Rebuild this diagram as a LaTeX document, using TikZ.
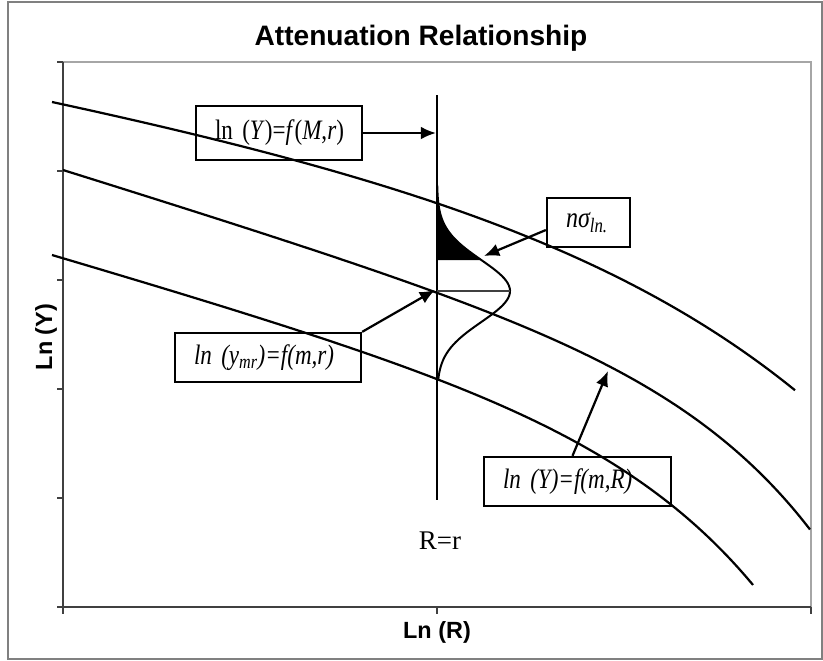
\documentclass[tikz,border=0pt]{standalone}
\usepackage{fontspec}
\setmainfont{Liberation Serif}
\setsansfont{Liberation Sans}
\newfontfamily\boxfont[FakeStretch=0.82]{Liberation Serif}
\usetikzlibrary{arrows.meta,calc}

\begin{document}
\begin{tikzpicture}[
  x=0.03cm, y=-0.03cm,
  relbox/.style={draw, line width=2pt, inner xsep=0.57cm, inner ysep=0pt, align=left,
    minimum height=1.47cm, font=\boxfont\fontsize{24}{26}\selectfont},
  attcurve/.style={line width=1.9pt, smooth, samples=90, variable=\u},
  callarrow/.style={draw, line width=1.9pt, -{Latex[length=13pt,width=11pt]}},
  axislabel/.style={font=\sffamily\bfseries\fontsize{20}{24}\selectfont}
]
\useasboundingbox (0,0) rectangle (823,660);

% frame and plot area
\draw[gray, line width=1pt] (8,2) rectangle (822,659);
\draw[gray!70, line width=1pt] (63,62) -- (811,62) -- (811,607);
\draw[black!75, line width=1.2pt] (63,62) -- (63,607) -- (811,607);
\foreach \ty in {62,171,280,389,498,607}
  \draw[black!75, line width=1pt] (57,\ty) -- (63,\ty);
\foreach \tx in {63,437,811}
  \draw[black!75, line width=1pt] (\tx,607) -- (\tx,614);

\node[font=\sffamily\bfseries\fontsize{24}{28}\selectfont, anchor=base] (title) at (421,45) {Attenuation Relationship};
\node[axislabel, anchor=base] (xlab) at (437,638) {Ln (R)};
\node[axislabel, anchor=base, rotate=90] (ylab) at (52,337) {Ln (Y)};

% attenuation curves
\draw[attcurve] plot[domain=0:743] ({52+\u},{102+0.18*\u+9.41*(exp(\u/260)-1)});
\draw[attcurve] plot[domain=0:747] ({63+\u},{170+0.31*\u+0.41*(exp(\u/130)-1)});
\draw[attcurve] plot[domain=0:701] ({52+\u},{255+0.29*\u+0.853*(exp(\u/140)-1)});

% distance R=r and scatter
\coordinate (rtop) at (437,95);
\coordinate (rbot) at (437,500);
\draw[line width=1.6pt] (rtop) -- (rbot);
\node[font=\fontsize{23}{26}\selectfont, anchor=base] (rlab) at (440,549) {R=r};
\fill plot[variable=\t, domain=185:260, samples=40] ({437+73*exp(-((\t-291)/31)^2/2)},{\t}) -- (437,260) -- cycle;
\draw[line width=1.7pt] plot[variable=\t, domain=185:379, samples=80] ({437+73*exp(-((\t-291)/31)^2/2)},{\t});
\coordinate (mean) at (437,291);
\coordinate (peak) at (510,291);
\draw[black!75, line width=1.3pt] (mean) -- (peak);

% labels
\node[relbox, text width=3.84cm, minimum height=1.62cm] (b1) at (279,133) {ln~(\textit{Y})=\textit{f}(\textit{M},\textit{r})};
\node[relbox, text width=1.35cm, font=\boxfont\fontsize{25}{26}\selectfont] (b2) at (588.5,222.5) {\textit{nσ\textsubscript{ln.}}};
\node[relbox, text width=4.44cm] (b3) at (268,357.5) {\textit{ln~(y\textsubscript{mr})=f(m,r)}};
\node[relbox, text width=4.47cm] (b4) at (577.5,481.5) {\textit{ln~(Y)=f(m,R)}};

\coordinate (tip1) at (436,133);
\coordinate (tip2) at (484,256);
\coordinate (tip3) at (435,290);
\coordinate (tip4) at (608,371);
\draw[callarrow] (b1.east) -- (tip1);
\draw[callarrow] (b2.190) -- (tip2);
\draw[callarrow] (b3.north east) -- (tip3);
\draw[callarrow] ($(b4.north)+(-5,0)$) -- (tip4);
\end{tikzpicture}
\end{document}
